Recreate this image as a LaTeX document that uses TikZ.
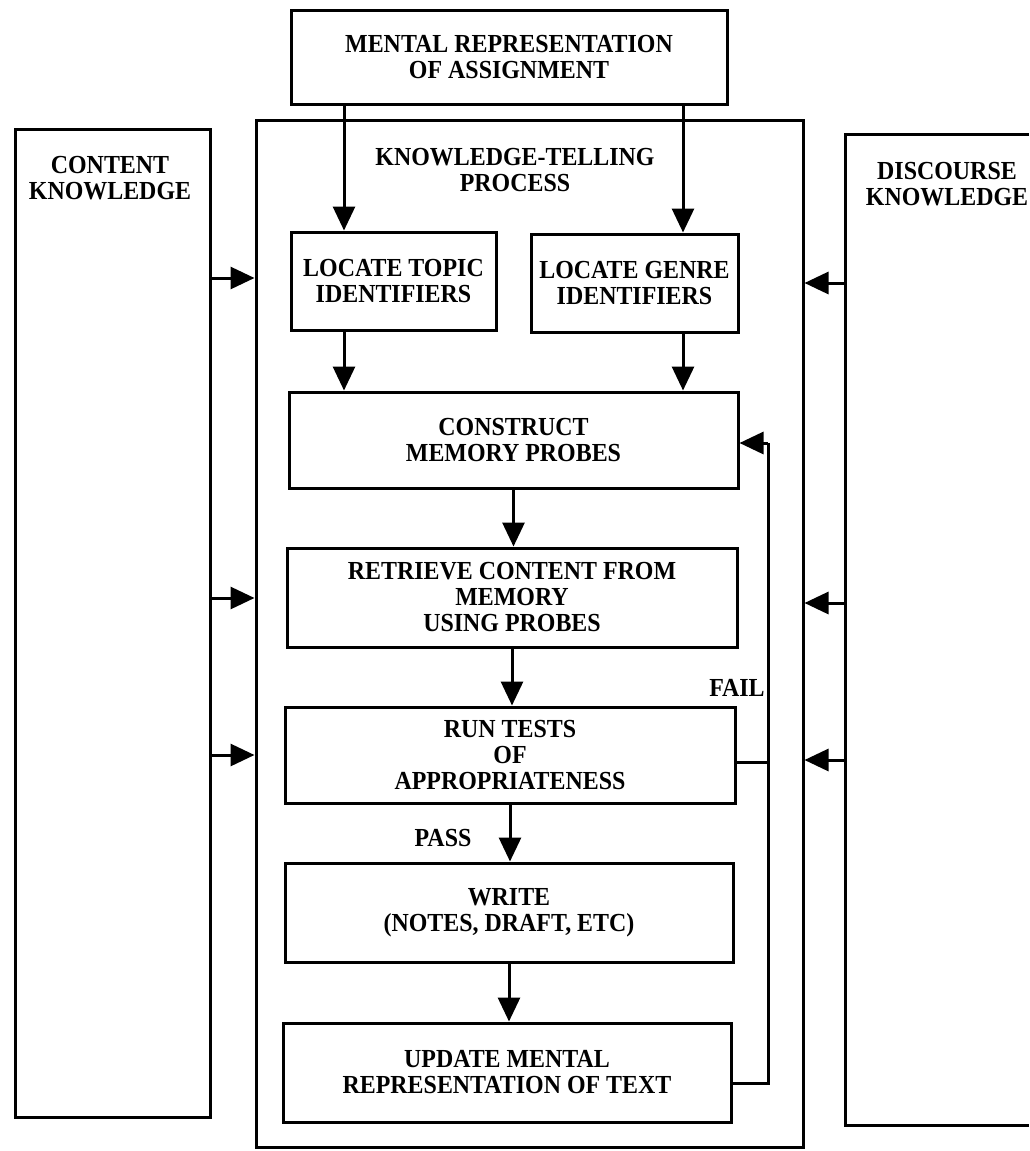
\documentclass[tikz,border=0pt]{standalone}
\usepackage{fontspec}
\setmainfont[FakeStretch=0.92]{Liberation Serif}
\usetikzlibrary{arrows.meta}
\begin{document}
\begin{tikzpicture}[x=1pt,y=-1pt,
  txt/.style={font=\bfseries\fontsize{26}{26}\selectfont, align=center, inner sep=0pt},
  box/.style={txt, draw, line width=3pt, rectangle},
  frame/.style={draw, line width=3pt, rectangle, inner sep=0pt},
  conn/.style={line width=3pt, -{Triangle[length=24pt,width=22pt]}},
  wire/.style={line width=3pt}]
\useasboundingbox (0,0) rectangle (1029,1151);
\fill[white] (0,0) rectangle (1029,1151);
% frames
\node[frame, minimum width=547pt, minimum height=1027pt] (main) at (529.5,634) {};
\node[frame, minimum width=195pt, minimum height=988pt] (content) at (112.5,623) {};
\node[inner sep=0pt, minimum width=183pt, minimum height=990pt] (disc) at (937.5,630) {};
\draw[wire] (disc.north east) -- (disc.north west) -- (disc.south west) -- (disc.south east);
% labels
\node[txt] (ctext) at (110,178) {CONTENT\\KNOWLEDGE};
\node[txt] (dtext) at (947,184) {DISCOURSE\\KNOWLEDGE};
\node[txt] (kt) at (515,170) {KNOWLEDGE-TELLING\\PROCESS};
% boxes
\node[box, minimum width=436pt, minimum height=94pt] (top) at (509,57) {MENTAL REPRESENTATION\\OF ASSIGNMENT};
\node[box, minimum width=205pt, minimum height=98pt] (topic) at (393.5,281) {LOCATE TOPIC\\IDENTIFIERS};
\node[box, minimum width=207pt, minimum height=98pt] (genre) at (634.5,283) {LOCATE GENRE\\IDENTIFIERS};
\node[box, minimum width=449pt, minimum height=96pt] (construct) at (513.5,440) {CONSTRUCT\\MEMORY PROBES};
\node[box, minimum width=450pt, minimum height=99pt] (retrieve) at (512,597.5) {RETRIEVE CONTENT FROM\\MEMORY\\USING PROBES};
\node[box, minimum width=450pt, minimum height=96pt] (run) at (510,755) {RUN TESTS\\OF\\APPROPRIATENESS};
\node[box, minimum width=448pt, minimum height=99pt] (write) at (509,912.5) {WRITE\\(NOTES, DRAFT, ETC)};
\node[box, minimum width=448pt, minimum height=99pt] (update) at (507,1072.5) {UPDATE MENTAL\\REPRESENTATION OF TEXT};
\node[txt] (fail) at (737,688) {FAIL};
\node[txt] (pass) at (443,838) {PASS};
% helper coordinates
\coordinate (xa) at (344,0);
\coordinate (xb) at (683,0);
\coordinate (y1) at (0,278);
\coordinate (y2) at (0,598);
\coordinate (y3) at (0,755);
\coordinate (z1) at (0,283);
\coordinate (z2) at (0,603);
\coordinate (z3) at (0,760);
\coordinate (fbtop) at (768,443);
\coordinate (fbmid) at (768,762);
\coordinate (fbbot) at (768,1083);
% top arrows
\draw[conn] (top.south -| xa) -- (topic.north -| xa);
\draw[conn] (top.south -| xb) -- (genre.north -| xb);
\draw[conn] (topic.south -| xa) -- (construct.north -| xa);
\draw[conn] (genre.south -| xb) -- (construct.north -| xb);
% chain
\draw[conn] (construct.south) -- (retrieve.north -| construct.south);
\draw[conn] (retrieve.south) -- (run.north -| retrieve.south);
\draw[conn] (run.south) -- (write.north -| run.south);
\draw[conn] (write.south) -- (update.north -| write.south);
% side inputs
\draw[conn] (content.east |- y1) -- (main.west |- y1);
\draw[conn] (content.east |- y2) -- (main.west |- y2);
\draw[conn] (content.east |- y3) -- (main.west |- y3);
\draw[conn] (disc.west |- z1) -- (main.east |- z1);
\draw[conn] (disc.west |- z2) -- (main.east |- z2);
\draw[conn] (disc.west |- z3) -- (main.east |- z3);
% feedback
\draw[wire] (update.east |- fbbot) -- (fbbot) -- (fbtop);
\draw[wire] (run.east |- fbmid) -- (fbmid);
\draw[conn] (fbtop) -- (construct.east |- fbtop);
\end{tikzpicture}
\end{document}
